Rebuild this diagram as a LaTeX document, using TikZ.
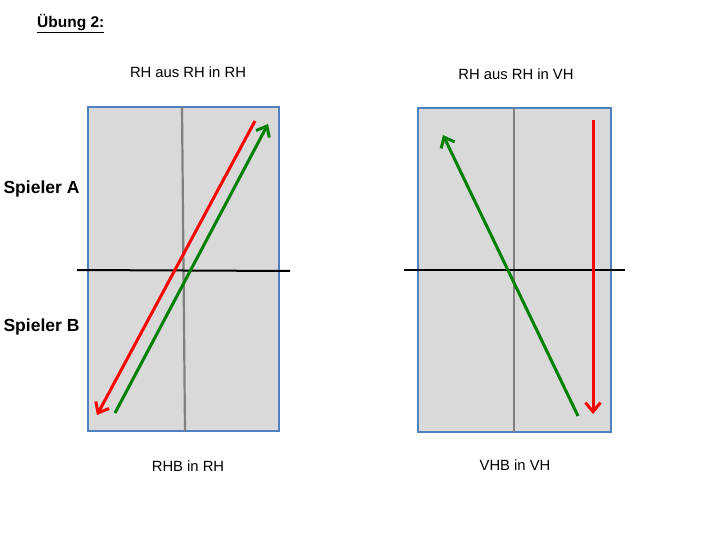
\documentclass[tikz,border=0pt]{standalone}
\usepackage{fontspec}
\setmainfont{Liberation Sans}
\usetikzlibrary{arrows.meta}
\definecolor{tableblue}{RGB}{79,129,189}
\definecolor{tablegray}{RGB}{217,217,217}
\definecolor{shotgreen}{RGB}{0,128,0}
\begin{document}
\begin{tikzpicture}[x=1pt,y=-1pt,
    table/.style={draw=tableblue,fill=tablegray,line width=1.6pt},
    midline/.style={draw=gray,line width=2.2pt},
    netline/.style={draw=black,line width=2pt},
    shot/.style={line width=3pt,-{Straight Barb[length=9pt,width=15pt,line width=3pt]}},
    every node/.style={inner sep=0pt,font=\fontsize{14.8}{17}\selectfont}]
    \useasboundingbox (0,0) rectangle (720,540);
    \node[anchor=west] (title) at (37,24) {\fontsize{15.5}{17}\selectfont\bfseries\underline{Übung 2:}};
    % left table
    \draw [table] (88,107) rectangle (279,431);
    \draw [midline] (182,107) -- (185,431);
    \draw [netline] (77,270) -- (290,271);
    \coordinate (l1) at (255,121);
    \coordinate (l2) at (97,415);
    \coordinate (l3) at (115,413);
    \coordinate (l4) at (268,124);
    \draw [shot,red] (l1) -- (l2);
    \draw [shot,shotgreen] (l3) -- (l4);
    % right table
    \draw [table] (418,108) rectangle (611,432);
    \draw [midline] (514,108) -- (514,432);
    \draw [netline] (404,270) -- (625,270);
    \coordinate (r1) at (578,416);
    \coordinate (r2) at (443,135);
    \coordinate (r3) at (593,120);
    \coordinate (r4) at (593,414);
    \draw [shot,shotgreen] (r1) -- (r2);
    \draw [shot,red] (r3) -- (r4);
    % labels
    \node (lefttop) at (188,72) {RH aus RH in RH};
    \node (righttop) at (516,74) {RH aus RH in VH};
    \node[font=\fontsize{17.5}{20}\selectfont\bfseries] (spielera) at (41.5,189) {Spieler A};
    \node[font=\fontsize{17.5}{20}\selectfont\bfseries] (spielerb) at (41.5,327) {Spieler B};
    \node (leftbot) at (188,466) {RHB in RH};
    \node (rightbot) at (515,465) {VHB in VH};
\end{tikzpicture}
\end{document}
